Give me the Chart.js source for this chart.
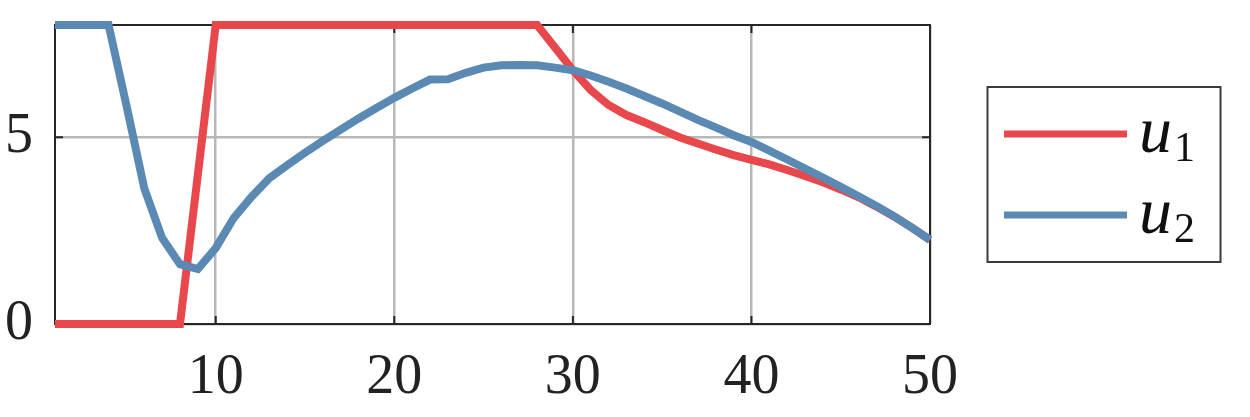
<!DOCTYPE html>
<html>
<head>
<meta charset="utf-8">
<script src="https://cdn.jsdelivr.net/npm/chart.js@4.4.0/dist/chart.umd.min.js"></script>
<style>
  html, body { margin: 0; padding: 0; background: #fff; }
  #wrap { width: 1250px; height: 417px; }
</style>
</head>
<body>
<div id="wrap"><canvas id="chart" width="1250" height="417"></canvas></div>
<script>
// data
const steps = [1, 2, 3, 4, 5, 6, 7, 8, 9, 10,
  11, 12, 13, 14, 15, 16, 17, 18, 19, 20,
  21, 22, 23, 24, 25, 26, 27, 28, 29, 30,
  31, 32, 33, 34, 35, 36, 37, 38, 39, 40,
  41, 42, 43, 44, 45, 46, 47, 48, 49, 50];
const u1 = [0, 0, 0, 0, 0, 0, 0, 0, 4, 8,
  8, 8, 8, 8, 8, 8, 8, 8, 8, 8,
  8, 8, 8, 8, 8, 8, 8, 8, 7.4, 6.79,
  6.26, 5.86, 5.59, 5.4, 5.19, 4.99, 4.83, 4.67, 4.52, 4.39,
  4.27, 4.12, 3.96, 3.79, 3.6, 3.39, 3.14, 2.87, 2.57, 2.25];
const u2 = [8, 8, 8, 8, 5.85, 3.63, 2.3, 1.6, 1.47, 2.03,
  2.83, 3.4, 3.9, 4.25, 4.58, 4.9, 5.2, 5.5, 5.78, 6.05,
  6.3, 6.54, 6.55, 6.72, 6.86, 6.92, 6.93, 6.92, 6.86, 6.79,
  6.65, 6.48, 6.3, 6.1, 5.9, 5.68, 5.46, 5.26, 5.05, 4.87,
  4.64, 4.4, 4.16, 3.92, 3.67, 3.42, 3.16, 2.88, 2.57, 2.25];
const xTicks = [10, 20, 30, 40, 50];
const yTicks = [0, 5];
const seriesNames = ['u', 'u'];
const seriesSubs = ['1', '2'];

const red = '#e8484c';
const blue = '#5a8ab4';
const serif = "'Liberation Serif', 'DejaVu Serif', serif";

// box round the axes + small inward ticks, drawn under the lines
const framePlugin = {
  id: 'frame',
  beforeDatasetsDraw(chart) {
    const { ctx, chartArea: a, scales } = chart;
    ctx.save();
    ctx.strokeStyle = '#262626';
    ctx.lineWidth = 2;
    ctx.strokeRect(a.left, a.top, a.right - a.left, a.bottom - a.top);
    const len = 8;
    xTicks.forEach(v => {
      const x = scales.x.getPixelForValue(v);
      ctx.beginPath();
      ctx.moveTo(x, a.bottom); ctx.lineTo(x, a.bottom - len);
      ctx.moveTo(x, a.top); ctx.lineTo(x, a.top + len);
      ctx.stroke();
    });
    yTicks.forEach(v => {
      const y = scales.y.getPixelForValue(v);
      ctx.beginPath();
      ctx.moveTo(a.left, y); ctx.lineTo(a.left + len, y);
      ctx.moveTo(a.right, y); ctx.lineTo(a.right - len, y);
      ctx.stroke();
    });
    ctx.restore();
  }
};

// legend box on the right with subscripted labels
const legendPlugin = {
  id: 'boxLegend',
  afterDraw(chart) {
    const { ctx } = chart;
    ctx.save();
    ctx.strokeStyle = '#3a3a3a';
    ctx.lineWidth = 2;
    ctx.strokeRect(987.5, 87, 233, 175);
    chart.data.datasets.forEach((ds, i) => {
      const y = 134 + i * 81;
      ctx.strokeStyle = ds.borderColor;
      ctx.lineWidth = 7;
      ctx.beginPath();
      ctx.moveTo(1004, y);
      ctx.lineTo(1127, y);
      ctx.stroke();
      ctx.fillStyle = '#111';
      ctx.textBaseline = 'alphabetic';
      ctx.textAlign = 'left';
      ctx.font = 'italic 66px ' + serif;
      ctx.fillText(seriesNames[i], 1139, y + 18);
      const w = ctx.measureText(seriesNames[i]).width;
      ctx.font = '42px ' + serif;
      ctx.fillText(seriesSubs[i], 1139 + w + 2, y + 27);
    });
    ctx.restore();
  }
};

new Chart(document.getElementById('chart').getContext('2d'), {
  type: 'line',
  data: {
    labels: steps,
    datasets: [
      { label: 'u₁', data: u1, borderColor: red, backgroundColor: red, borderWidth: 8,
        pointRadius: 0, tension: 0, clip: false, order: 2 },
      { label: 'u₂', data: u2, borderColor: blue, backgroundColor: blue, borderWidth: 8,
        pointRadius: 0, tension: 0, clip: false, order: 1 }
    ]
  },
  options: {
    responsive: false,
    animation: false,
    layout: { padding: { left: 0, right: 320, top: 25, bottom: 0 } },
    plugins: { legend: { display: false }, tooltip: { enabled: false } },
    scales: {
      x: {
        type: 'linear', min: 1, max: 50,
        afterBuildTicks: s => { s.ticks = xTicks.map(v => ({ value: v })); },
        afterFit: s => { s.height = 93; s.paddingLeft = 0; s.paddingRight = 0; },
        ticks: { font: { family: serif, size: 56 }, color: '#222', padding: 21, maxRotation: 0 },
        grid: { color: '#b8b8b8', lineWidth: 2.5, drawTicks: false },
        border: { display: false }
      },
      y: {
        min: 0, max: 8,
        afterBuildTicks: s => { s.ticks = yTicks.map(v => ({ value: v })); },
        afterFit: s => { s.width = 55; s.paddingTop = 0; s.paddingBottom = 0; },
        ticks: { font: { family: serif, size: 56 }, color: '#222', padding: 22 },
        grid: { color: '#b8b8b8', lineWidth: 2.5, drawTicks: false },
        border: { display: false }
      }
    }
  },
  plugins: [framePlugin, legendPlugin]
});
</script>
</body>
</html>
